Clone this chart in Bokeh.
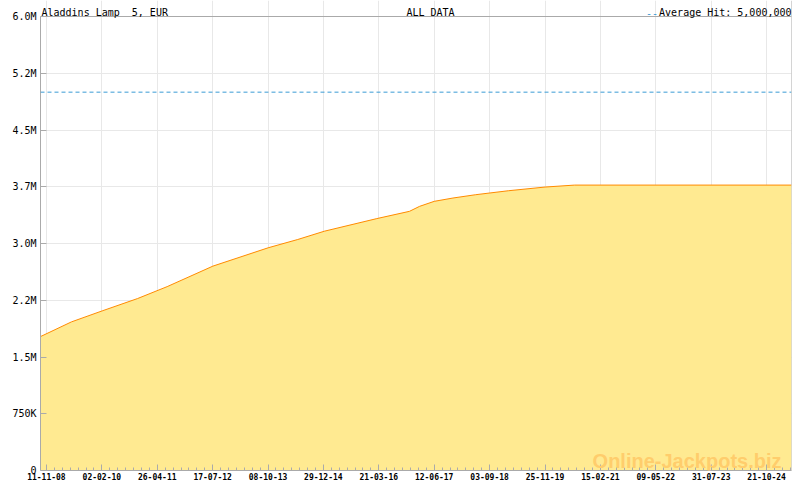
import pandas as pd
from bokeh.plotting import figure
from bokeh.models import (ColumnDataSource, FixedTicker, DatetimeTickFormatter,
                          Span, Label, Range1d, Grid)
from bokeh.embed import file_html
from bokeh.resources import INLINE

# ---------------- data ----------------
game_name = "Aladdins Lamp  5, EUR"
period_label = "ALL DATA"
average_hit = 5_000_000
watermark = "Online-Jackpots.biz"

dates = [
    "2008-09-24", "2009-06-01", "2010-02-04", "2010-11-17", "2011-07-15",
    "2012-07-19", "2013-10-08", "2014-06-05", "2015-01-05", "2016-03-05",
    "2016-11-24", "2017-02-14", "2017-06-12", "2017-11-11", "2018-05-14",
    "2019-02-01", "2019-11-25", "2020-07-22", "2025-05-10",
]
jackpot_values = [
    1770000, 1964000, 2109000, 2272000, 2430000,
    2701000, 2943000, 3053000, 3162000, 3329000,
    3425000, 3491000, 3557000, 3601000, 3645000,
    3697000, 3746000, 3772000, 3772000,
]

y_tick_values = [0, 750000, 1500000, 2250000, 3000000, 3750000, 4500000, 5250000, 6000000]
y_tick_labels = ["0", "750K", "1.5M", "2.2M", "3.0M", "3.7M", "4.5M", "5.2M", "6.0M"]

x_tick_dates = [
    "2008-11-11", "2010-02-02", "2011-04-26", "2012-07-17", "2013-10-08",
    "2014-12-29", "2016-03-21", "2017-06-12", "2018-09-03", "2019-11-25",
    "2021-02-15", "2022-05-09", "2023-07-31", "2024-10-21",
]
x_minor_per_major = 7
range_start = "2008-09-24"
range_end = "2025-05-10"

# ---------------- helpers ----------------
DAY_MS = 86400000

def to_ms(ts):
    return (pd.Timestamp(ts) - pd.Timestamp("1970-01-01")) / pd.Timedelta(milliseconds=1)

x_major = [to_ms(d) for d in x_tick_dates]
x_minor = []
for a, b in zip(x_major[:-1], x_major[1:]):
    s = (b - a) / x_minor_per_major
    x_minor += [a + s * k for k in range(x_minor_per_major)]
s = (x_major[1] - x_major[0]) / x_minor_per_major
k = 1
while x_major[0] - s * k >= to_ms(range_start):
    x_minor.append(x_major[0] - s * k)
    k += 1
k = 0
while x_major[-1] + s * k <= to_ms(range_end):
    x_minor.append(x_major[-1] + s * k)
    k += 1

src = ColumnDataSource(dict(date=pd.to_datetime(dates), val=jackpot_values))

MONO = "DejaVu Sans Mono"
GRAY = "#aaaaaa"
FW = 751            # frame width
PLOT_H = 454        # pixels from 0 to the top value
HEAD = 16           # header strip above the top value (inside the frame)
FH = PLOT_H + HEAD
y_top = y_tick_values[-1]
y_end = y_top * FH / PLOT_H

p = figure(frame_width=FW, frame_height=FH, output_backend="svg", toolbar_location=None,
           x_axis_type="datetime",
           x_range=Range1d(pd.Timestamp(range_start), pd.Timestamp(range_end)),
           y_range=Range1d(0, y_end),
           min_border_left=40, min_border_right=1, min_border_top=0, min_border_bottom=12)
p.background_fill_color = "white"
p.border_fill_color = "white"
p.outline_line_color = None

p.varea(x="date", y1=0, y2="val", source=src, fill_color="#ffea91")
p.line(x="date", y="val", source=src, line_color="#ff8a00", line_width=1)

# axes
xa = p.xaxis[0]
xa.ticker = FixedTicker(ticks=x_major, minor_ticks=x_minor)
xa.formatter = DatetimeTickFormatter(days="%d-%m-%y", months="%d-%m-%y", years="%d-%m-%y",
                                     hours="%d-%m-%y", minutes="%d-%m-%y")
ya = p.yaxis[0]
ya.ticker = FixedTicker(ticks=y_tick_values)
ya.major_label_overrides = {v: l for v, l in zip(y_tick_values, y_tick_labels)}
ya.bounds = (0, y_top)

for ax in (xa, ya):
    ax.axis_line_color = GRAY
    ax.major_tick_line_color = GRAY
    ax.minor_tick_line_color = GRAY
    ax.major_tick_in = 6
    ax.major_tick_out = 0
    ax.minor_tick_in = 3
    ax.minor_tick_out = 0
    ax.major_label_text_font = MONO
    ax.major_label_text_color = "black"
ya.minor_tick_line_color = None
xa.major_label_text_font_size = "8px"
xa.major_label_text_font_style = "bold"
xa.major_label_standoff = 2
ya.major_label_text_font_size = "10px"
ya.major_label_standoff = 4

p.xgrid.grid_line_color = "#e8e8e8"
p.xgrid.bounds = (0, y_top)
p.ygrid.grid_line_color = "#e8e8e8"

# chart border: top line and right line
p.add_layout(Span(location=y_top, dimension="width", line_color=GRAY, line_width=1))
p.add_layout(Grid(dimension=0, ticker=FixedTicker(ticks=[to_ms(range_end) - 4 * DAY_MS]),
                  bounds=(0, y_top), grid_line_color=GRAY))

# average hit line
p.add_layout(Span(location=average_hit, dimension="width", line_color="#3a9bd5",
                  line_dash="4 3", line_width=1))

# header texts (inside the frame strip above the top value)
common = dict(x_units="screen", y_units="screen", text_font=MONO,
              text_font_size="10px", text_color="black", text_baseline="alphabetic")
HY = PLOT_H + 4
p.add_layout(Label(x=1, y=HY, text=game_name.replace("  ", " \u00a0"),
                   text_align="left", **common))
p.add_layout(Label(x=390, y=HY, text=period_label, text_align="center", **common))
avg_text = f"Average Hit: {average_hit:,}"
p.add_layout(Label(x=FW, y=HY, text=avg_text, text_align="right", **common))
common_dash = dict(common)
common_dash["text_color"] = "#3a9bd5"
p.add_layout(Label(x=FW - 6.02 * len(avg_text) - 1, y=HY, text="--",
                   text_align="right", **common_dash))

p.add_layout(Label(x=FW - 10, y=10, x_units="screen", y_units="screen", text=watermark,
                   text_align="right", text_baseline="alphabetic",
                   text_font="Liberation Sans", text_font_style="bold",
                   text_font_size="20px", text_color="#ffcd6c"))

open("out.html", "w").write(file_html(p, INLINE))
